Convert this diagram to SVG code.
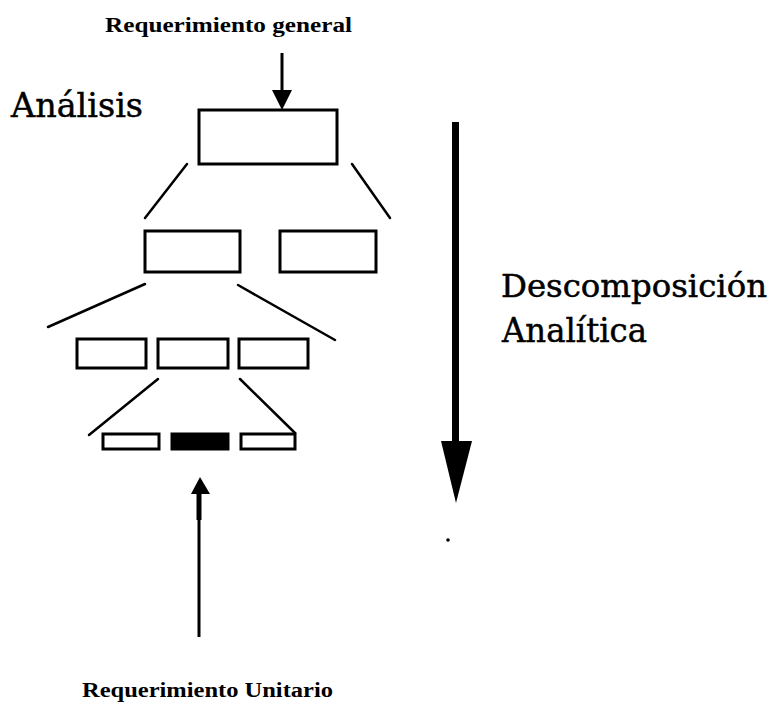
<svg xmlns="http://www.w3.org/2000/svg" width="777" height="706" viewBox="0 0 777 706">
  <style>
    .box { fill: #fff; stroke: #000; stroke-width: 3; }
    .solid { fill: #000; stroke: #000; stroke-width: 3; }
    .link { stroke: #000; stroke-width: 2.5; fill: none; stroke-linecap: round; }
    text { fill: #000; }
    .big { font-family: 'DejaVu Serif', 'Liberation Serif', serif; font-size: 34px; stroke: #000; stroke-width: 0.5; }
    .big-wide { font-size: 32px; }
    .small { font-family: 'Liberation Serif', 'DejaVu Serif', serif; font-size: 20px; font-weight: bold; }
  </style>

  <rect width="777" height="706" fill="#fff"/>

  <!-- labels -->
  <g id="label-general">
    <text class="small" x="105" y="32" textLength="247" lengthAdjust="spacingAndGlyphs">Requerimiento general</text>
  </g>
  <g id="label-analisis">
    <text class="big" x="11" y="117" textLength="132" lengthAdjust="spacingAndGlyphs">Análisis</text>
  </g>
  <g id="label-descomposicion">
    <text class="big big-wide" x="501" y="297" textLength="266" lengthAdjust="spacingAndGlyphs">Descomposición</text>
    <text class="big" x="502" y="342" textLength="145" lengthAdjust="spacingAndGlyphs">Analítica</text>
  </g>
  <g id="label-unitario">
    <text class="small" x="82" y="697" textLength="251" lengthAdjust="spacingAndGlyphs">Requerimiento Unitario</text>
  </g>

  <!-- level 1 -->
  <g id="node-root">
    <rect class="box" x="199" y="110" width="138" height="54"/>
  </g>

  <!-- level 2 -->
  <g id="node-l2a">
    <rect class="box" x="145" y="231" width="95" height="41"/>
  </g>
  <g id="node-l2b">
    <rect class="box" x="280" y="231" width="96" height="41"/>
  </g>

  <!-- level 3 -->
  <g id="node-l3a">
    <rect class="box" x="77" y="339" width="69" height="29"/>
  </g>
  <g id="node-l3b">
    <rect class="box" x="158" y="339" width="70" height="29"/>
  </g>
  <g id="node-l3c">
    <rect class="box" x="239" y="339" width="69" height="29"/>
  </g>

  <!-- level 4 -->
  <g id="node-l4a">
    <rect class="box" x="103" y="434" width="56" height="15"/>
  </g>
  <g id="node-l4b">
    <rect class="solid" x="172" y="434" width="56" height="15"/>
  </g>
  <g id="node-l4c">
    <rect class="box" x="241" y="434" width="54" height="15"/>
  </g>

  <!-- connectors -->
  <g id="connectors">
    <!-- input arrow into the root -->
    <line x1="282" y1="53" x2="282" y2="92" stroke="#000" stroke-width="3"/>
    <polygon points="272,90 292,90 282,110" fill="#000"/>

    <!-- branch lines -->
    <line class="link" x1="187" y1="164" x2="145" y2="218"/>
    <line class="link" x1="352" y1="164" x2="390" y2="218"/>
    <line class="link" x1="145" y1="284" x2="48" y2="327"/>
    <line class="link" x1="238" y1="285" x2="335" y2="340"/>
    <line class="link" x1="158" y1="379" x2="89" y2="435"/>
    <line class="link" x1="240" y1="379" x2="295" y2="433"/>

    <!-- arrow up to the unit requirement -->
    <line x1="199" y1="637" x2="199" y2="520" stroke="#000" stroke-width="3"/>
    <line x1="199" y1="520" x2="199" y2="490" stroke="#000" stroke-width="5"/>
    <polygon points="191,494 210,494 200,477" fill="#000"/>

    <!-- large downward decomposition arrow -->
    <rect x="452" y="122" width="7" height="322" fill="#000"/>
    <polygon points="441,441 472,441 456,503" fill="#000"/>
  </g>

  <!-- stray mark -->
  <circle cx="448" cy="540" r="1.8" fill="#000"/>
</svg>
